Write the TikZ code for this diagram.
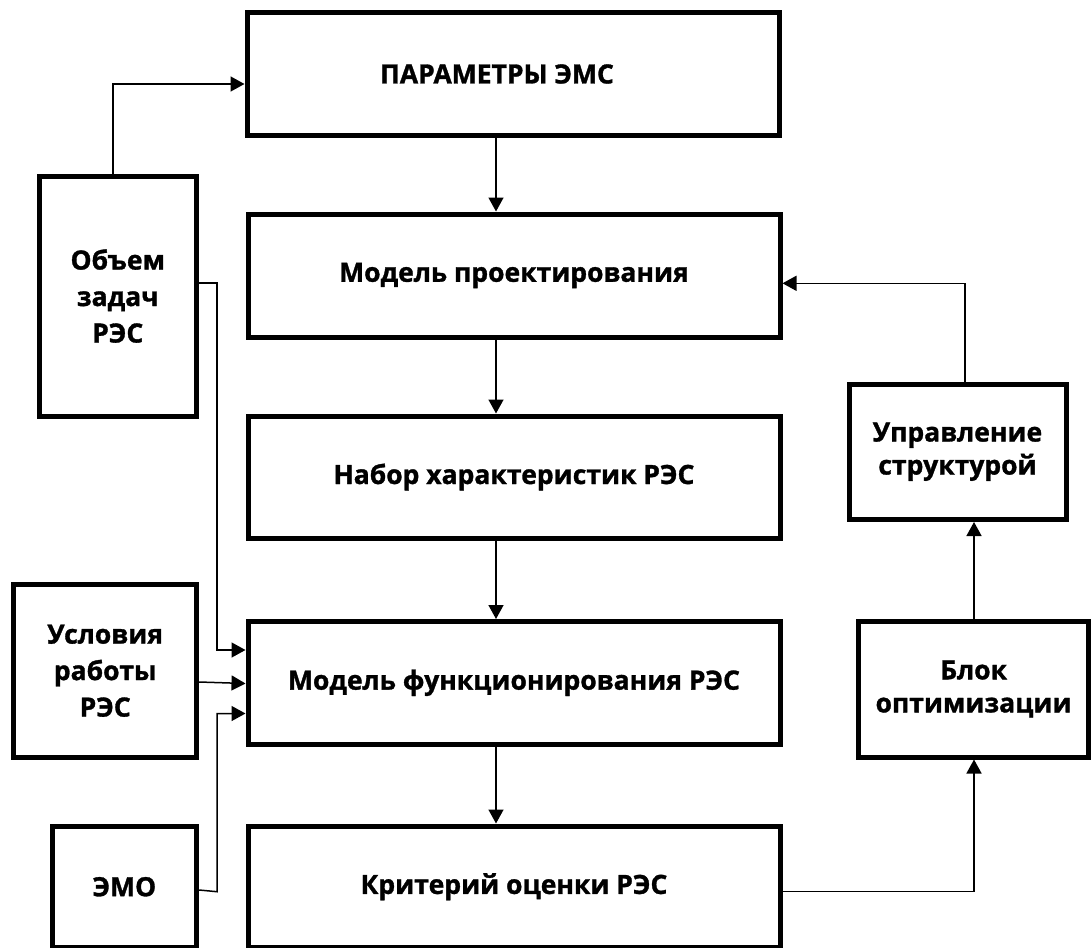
\documentclass[tikz,border=0pt]{standalone}
\usepackage{fontspec}
\setmainfont{Open Sans}[BoldFeatures={FakeBold=1.2}]
\usetikzlibrary{arrows.meta}
\begin{document}
\begin{tikzpicture}[x=1pt,y=-1pt,
  blk/.style={draw=black, line width=5pt, inner sep=0pt, align=center,
    font=\fontsize{26.5}{36.5}\selectfont\bfseries},
  arr/.style={draw=black, line width=1.5pt, -{Triangle[length=14pt,width=15pt]}}]
\useasboundingbox (0,0) rectangle (1091,947);
% main column
\node[blk, minimum width=532pt, minimum height=122.5pt] (par) at (513,73.75) {};
\node at (497,74) {\fontsize{26.5}{36.5}\selectfont\bfseries ПАРАМЕТРЫ ЭМС};
\node[blk, minimum width=532pt, minimum height=123pt] (proj) at (514,275.5) {Модель проектирования};
\node[blk, minimum width=532pt, minimum height=122pt] (nab) at (514,477) {Набор характеристик РЭС};
\node[blk, minimum width=532pt, minimum height=122.5pt] (func) at (514,682.75) {Модель функционирования РЭС};
\node[blk, minimum width=532pt, minimum height=121.5pt] (krit) at (514,886.75) {Критерий оценки РЭС};
% left column
\node[blk, minimum width=157.5pt, minimum height=240pt] (obj) at (117.75,296) {Объем\\задач\\РЭС};
\node[blk, minimum width=183pt, minimum height=173.5pt] (usl) at (105.2,670.75) {Условия\\работы\\РЭС};
\node[blk, minimum width=144.7pt, minimum height=121.5pt] (emo) at (124.35,886.75) {ЭМО};
% right column
\node[blk, minimum width=217pt, minimum height=135.5pt, font=\fontsize{26.5}{33}\selectfont\bfseries] (upr) at (957.5,451.75) {Управление\\структурой};
\node[blk, minimum width=229.8pt, minimum height=136pt, font=\fontsize{26.5}{33}\selectfont\bfseries] (blok) at (973.6,689) {Блок\\оптимизации};
% coordinates
\coordinate (cx) at (496,0);
\coordinate (lx) at (217,0);
\coordinate (rx) at (974,0);
\coordinate (ux) at (965,0);
% connectors
\draw[arr] (par.south -| cx) -- (proj.north -| cx);
\draw[arr] (proj.south -| cx) -- (nab.north -| cx);
\draw[arr] (nab.south -| cx) -- (func.north -| cx);
\draw[arr] (func.south -| cx) -- (krit.north -| cx);
\draw[arr] (obj.north -| 113,0) |- (par.west |- 0,84);
\draw[arr] (obj.east |- 0,283) -| (lx |- 0,650) -- (func.west |- 0,650);
\draw[arr] (usl.east |- 0,682) -- (func.west |- 0,683.5);
\draw[arr] (emo.east |- 0,890) -- (lx |- 0,891.7) -- (lx |- 0,713.5) -- (func.west |- 0,713.5);
\draw[arr] (krit.east |- 0,891.7) -| (blok.south -| rx);
\draw[arr] (blok.north -| rx) -- (upr.south -| rx);
\draw[arr] (upr.north -| ux) |- (proj.east |- 0,283.3);
\end{tikzpicture}
\end{document}
